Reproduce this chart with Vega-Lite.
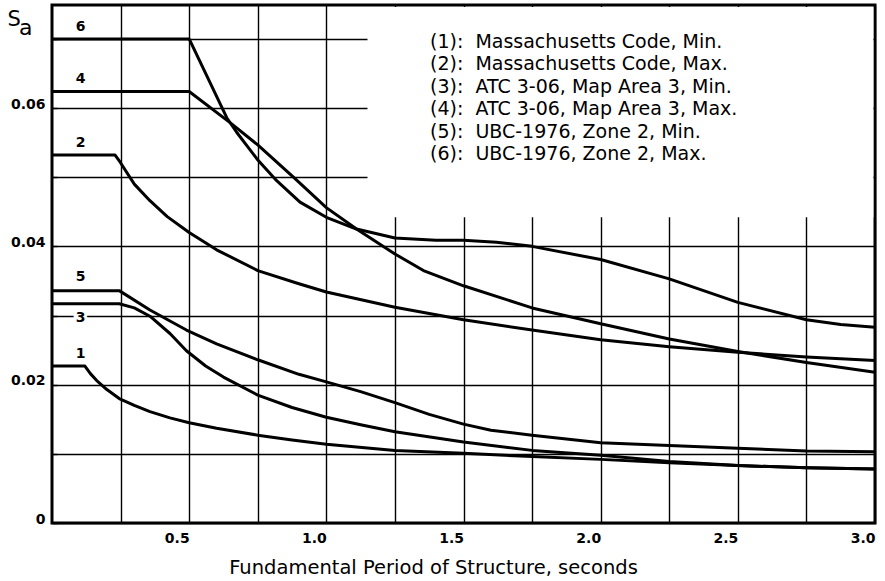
{
  "$schema": "https://vega.github.io/schema/vega-lite/v6.json",
  "width": 823,
  "height": 518,
  "autosize": {"type": "none"},
  "padding": {"left": 52, "top": 5, "right": 10, "bottom": 58},
  "background": "white",
  "config": {
    "view": {"stroke": "black", "strokeWidth": 3},
    "axis": {"domain": false}
  },
  "title": {
    "text": "a",
    "anchor": "start",
    "frame": "group",
    "offset": 0,
    "dx": -33,
    "dy": 52,
    "baseline": "alphabetic",
    "font": "DejaVu Sans",
    "fontSize": 22,
    "fontWeight": "normal",
    "color": "black"
  },
  "datasets": {
    "curves": [
      {"series": "(1):\u00a0\u00a0Massachusetts Code, Min.", "T": 0, "Sa": 0.0227},
      {"series": "(1):\u00a0\u00a0Massachusetts Code, Min.", "T": 0.12, "Sa": 0.0227},
      {"series": "(1):\u00a0\u00a0Massachusetts Code, Min.", "T": 0.14, "Sa": 0.0216},
      {"series": "(1):\u00a0\u00a0Massachusetts Code, Min.", "T": 0.163, "Sa": 0.0206},
      {"series": "(1):\u00a0\u00a0Massachusetts Code, Min.", "T": 0.2, "Sa": 0.0193},
      {"series": "(1):\u00a0\u00a0Massachusetts Code, Min.", "T": 0.245, "Sa": 0.018},
      {"series": "(1):\u00a0\u00a0Massachusetts Code, Min.", "T": 0.3, "Sa": 0.017},
      {"series": "(1):\u00a0\u00a0Massachusetts Code, Min.", "T": 0.357, "Sa": 0.0161},
      {"series": "(1):\u00a0\u00a0Massachusetts Code, Min.", "T": 0.43, "Sa": 0.0152},
      {"series": "(1):\u00a0\u00a0Massachusetts Code, Min.", "T": 0.5, "Sa": 0.0145},
      {"series": "(1):\u00a0\u00a0Massachusetts Code, Min.", "T": 0.6, "Sa": 0.0137},
      {"series": "(1):\u00a0\u00a0Massachusetts Code, Min.", "T": 0.75, "Sa": 0.0127},
      {"series": "(1):\u00a0\u00a0Massachusetts Code, Min.", "T": 0.875, "Sa": 0.012},
      {"series": "(1):\u00a0\u00a0Massachusetts Code, Min.", "T": 1.0, "Sa": 0.0114},
      {"series": "(1):\u00a0\u00a0Massachusetts Code, Min.", "T": 1.25, "Sa": 0.0105},
      {"series": "(1):\u00a0\u00a0Massachusetts Code, Min.", "T": 1.5, "Sa": 0.0101},
      {"series": "(1):\u00a0\u00a0Massachusetts Code, Min.", "T": 1.75, "Sa": 0.0096},
      {"series": "(1):\u00a0\u00a0Massachusetts Code, Min.", "T": 2.0, "Sa": 0.0092},
      {"series": "(1):\u00a0\u00a0Massachusetts Code, Min.", "T": 2.25, "Sa": 0.0087},
      {"series": "(1):\u00a0\u00a0Massachusetts Code, Min.", "T": 2.5, "Sa": 0.0083},
      {"series": "(1):\u00a0\u00a0Massachusetts Code, Min.", "T": 2.75, "Sa": 0.008},
      {"series": "(1):\u00a0\u00a0Massachusetts Code, Min.", "T": 3.0, "Sa": 0.0078},

      {"series": "(2):\u00a0\u00a0Massachusetts Code, Max.", "T": 0, "Sa": 0.0532},
      {"series": "(2):\u00a0\u00a0Massachusetts Code, Max.", "T": 0.23, "Sa": 0.0532},
      {"series": "(2):\u00a0\u00a0Massachusetts Code, Max.", "T": 0.248, "Sa": 0.0522},
      {"series": "(2):\u00a0\u00a0Massachusetts Code, Max.", "T": 0.3, "Sa": 0.049},
      {"series": "(2):\u00a0\u00a0Massachusetts Code, Max.", "T": 0.357, "Sa": 0.0466},
      {"series": "(2):\u00a0\u00a0Massachusetts Code, Max.", "T": 0.42, "Sa": 0.0443},
      {"series": "(2):\u00a0\u00a0Massachusetts Code, Max.", "T": 0.5, "Sa": 0.042},
      {"series": "(2):\u00a0\u00a0Massachusetts Code, Max.", "T": 0.6, "Sa": 0.0395},
      {"series": "(2):\u00a0\u00a0Massachusetts Code, Max.", "T": 0.75, "Sa": 0.0365},
      {"series": "(2):\u00a0\u00a0Massachusetts Code, Max.", "T": 0.9, "Sa": 0.0346},
      {"series": "(2):\u00a0\u00a0Massachusetts Code, Max.", "T": 1.0, "Sa": 0.0334},
      {"series": "(2):\u00a0\u00a0Massachusetts Code, Max.", "T": 1.25, "Sa": 0.0312},
      {"series": "(2):\u00a0\u00a0Massachusetts Code, Max.", "T": 1.5, "Sa": 0.0294},
      {"series": "(2):\u00a0\u00a0Massachusetts Code, Max.", "T": 1.75, "Sa": 0.0279},
      {"series": "(2):\u00a0\u00a0Massachusetts Code, Max.", "T": 2.0, "Sa": 0.0265},
      {"series": "(2):\u00a0\u00a0Massachusetts Code, Max.", "T": 2.25, "Sa": 0.0255},
      {"series": "(2):\u00a0\u00a0Massachusetts Code, Max.", "T": 2.5, "Sa": 0.0247},
      {"series": "(2):\u00a0\u00a0Massachusetts Code, Max.", "T": 2.75, "Sa": 0.024},
      {"series": "(2):\u00a0\u00a0Massachusetts Code, Max.", "T": 3.0, "Sa": 0.0235},

      {"series": "(3):\u00a0\u00a0ATC 3-06, Map Area 3, Min.", "T": 0, "Sa": 0.0317},
      {"series": "(3):\u00a0\u00a0ATC 3-06, Map Area 3, Min.", "T": 0.245, "Sa": 0.0317},
      {"series": "(3):\u00a0\u00a0ATC 3-06, Map Area 3, Min.", "T": 0.3, "Sa": 0.0311},
      {"series": "(3):\u00a0\u00a0ATC 3-06, Map Area 3, Min.", "T": 0.357, "Sa": 0.0299},
      {"series": "(3):\u00a0\u00a0ATC 3-06, Map Area 3, Min.", "T": 0.43, "Sa": 0.0274},
      {"series": "(3):\u00a0\u00a0ATC 3-06, Map Area 3, Min.", "T": 0.49, "Sa": 0.0249},
      {"series": "(3):\u00a0\u00a0ATC 3-06, Map Area 3, Min.", "T": 0.56, "Sa": 0.0227},
      {"series": "(3):\u00a0\u00a0ATC 3-06, Map Area 3, Min.", "T": 0.625, "Sa": 0.0211},
      {"series": "(3):\u00a0\u00a0ATC 3-06, Map Area 3, Min.", "T": 0.75, "Sa": 0.0185},
      {"series": "(3):\u00a0\u00a0ATC 3-06, Map Area 3, Min.", "T": 0.875, "Sa": 0.0167},
      {"series": "(3):\u00a0\u00a0ATC 3-06, Map Area 3, Min.", "T": 1.0, "Sa": 0.0153},
      {"series": "(3):\u00a0\u00a0ATC 3-06, Map Area 3, Min.", "T": 1.125, "Sa": 0.0142},
      {"series": "(3):\u00a0\u00a0ATC 3-06, Map Area 3, Min.", "T": 1.25, "Sa": 0.0132},
      {"series": "(3):\u00a0\u00a0ATC 3-06, Map Area 3, Min.", "T": 1.5, "Sa": 0.0117},
      {"series": "(3):\u00a0\u00a0ATC 3-06, Map Area 3, Min.", "T": 1.75, "Sa": 0.0105},
      {"series": "(3):\u00a0\u00a0ATC 3-06, Map Area 3, Min.", "T": 2.0, "Sa": 0.0098},
      {"series": "(3):\u00a0\u00a0ATC 3-06, Map Area 3, Min.", "T": 2.25, "Sa": 0.0089},
      {"series": "(3):\u00a0\u00a0ATC 3-06, Map Area 3, Min.", "T": 2.5, "Sa": 0.0083},
      {"series": "(3):\u00a0\u00a0ATC 3-06, Map Area 3, Min.", "T": 2.75, "Sa": 0.008},
      {"series": "(3):\u00a0\u00a0ATC 3-06, Map Area 3, Min.", "T": 3.0, "Sa": 0.0078},

      {"series": "(4):\u00a0\u00a0ATC 3-06, Map Area 3, Max.", "T": 0, "Sa": 0.0624},
      {"series": "(4):\u00a0\u00a0ATC 3-06, Map Area 3, Max.", "T": 0.5, "Sa": 0.0624},
      {"series": "(4):\u00a0\u00a0ATC 3-06, Map Area 3, Max.", "T": 0.649, "Sa": 0.0579},
      {"series": "(4):\u00a0\u00a0ATC 3-06, Map Area 3, Max.", "T": 0.752, "Sa": 0.0546},
      {"series": "(4):\u00a0\u00a0ATC 3-06, Map Area 3, Max.", "T": 0.88, "Sa": 0.05},
      {"series": "(4):\u00a0\u00a0ATC 3-06, Map Area 3, Max.", "T": 1.0, "Sa": 0.0456},
      {"series": "(4):\u00a0\u00a0ATC 3-06, Map Area 3, Max.", "T": 1.11, "Sa": 0.0425},
      {"series": "(4):\u00a0\u00a0ATC 3-06, Map Area 3, Max.", "T": 1.25, "Sa": 0.0389},
      {"series": "(4):\u00a0\u00a0ATC 3-06, Map Area 3, Max.", "T": 1.354, "Sa": 0.0365},
      {"series": "(4):\u00a0\u00a0ATC 3-06, Map Area 3, Max.", "T": 1.5, "Sa": 0.0343},
      {"series": "(4):\u00a0\u00a0ATC 3-06, Map Area 3, Max.", "T": 1.75, "Sa": 0.0311},
      {"series": "(4):\u00a0\u00a0ATC 3-06, Map Area 3, Max.", "T": 2.0, "Sa": 0.0288},
      {"series": "(4):\u00a0\u00a0ATC 3-06, Map Area 3, Max.", "T": 2.25, "Sa": 0.0266},
      {"series": "(4):\u00a0\u00a0ATC 3-06, Map Area 3, Max.", "T": 2.5, "Sa": 0.0248},
      {"series": "(4):\u00a0\u00a0ATC 3-06, Map Area 3, Max.", "T": 2.75, "Sa": 0.0232},
      {"series": "(4):\u00a0\u00a0ATC 3-06, Map Area 3, Max.", "T": 3.0, "Sa": 0.0218},

      {"series": "(5):\u00a0\u00a0UBC-1976, Zone 2, Min.", "T": 0, "Sa": 0.0336},
      {"series": "(5):\u00a0\u00a0UBC-1976, Zone 2, Min.", "T": 0.245, "Sa": 0.0336},
      {"series": "(5):\u00a0\u00a0UBC-1976, Zone 2, Min.", "T": 0.357, "Sa": 0.0308},
      {"series": "(5):\u00a0\u00a0UBC-1976, Zone 2, Min.", "T": 0.49, "Sa": 0.0279},
      {"series": "(5):\u00a0\u00a0UBC-1976, Zone 2, Min.", "T": 0.6, "Sa": 0.0259},
      {"series": "(5):\u00a0\u00a0UBC-1976, Zone 2, Min.", "T": 0.75, "Sa": 0.0236},
      {"series": "(5):\u00a0\u00a0UBC-1976, Zone 2, Min.", "T": 0.9, "Sa": 0.0215},
      {"series": "(5):\u00a0\u00a0UBC-1976, Zone 2, Min.", "T": 1.0, "Sa": 0.0204},
      {"series": "(5):\u00a0\u00a0UBC-1976, Zone 2, Min.", "T": 1.125, "Sa": 0.019},
      {"series": "(5):\u00a0\u00a0UBC-1976, Zone 2, Min.", "T": 1.25, "Sa": 0.0174},
      {"series": "(5):\u00a0\u00a0UBC-1976, Zone 2, Min.", "T": 1.375, "Sa": 0.0157},
      {"series": "(5):\u00a0\u00a0UBC-1976, Zone 2, Min.", "T": 1.5, "Sa": 0.0143},
      {"series": "(5):\u00a0\u00a0UBC-1976, Zone 2, Min.", "T": 1.6, "Sa": 0.0134},
      {"series": "(5):\u00a0\u00a0UBC-1976, Zone 2, Min.", "T": 1.75, "Sa": 0.0127},
      {"series": "(5):\u00a0\u00a0UBC-1976, Zone 2, Min.", "T": 2.0, "Sa": 0.0116},
      {"series": "(5):\u00a0\u00a0UBC-1976, Zone 2, Min.", "T": 2.25, "Sa": 0.0112},
      {"series": "(5):\u00a0\u00a0UBC-1976, Zone 2, Min.", "T": 2.5, "Sa": 0.0108},
      {"series": "(5):\u00a0\u00a0UBC-1976, Zone 2, Min.", "T": 2.75, "Sa": 0.0104},
      {"series": "(5):\u00a0\u00a0UBC-1976, Zone 2, Min.", "T": 3.0, "Sa": 0.0103},

      {"series": "(6):\u00a0\u00a0UBC-1976, Zone 2, Max.", "T": 0, "Sa": 0.07},
      {"series": "(6):\u00a0\u00a0UBC-1976, Zone 2, Max.", "T": 0.5, "Sa": 0.07},
      {"series": "(6):\u00a0\u00a0UBC-1976, Zone 2, Max.", "T": 0.637, "Sa": 0.0586},
      {"series": "(6):\u00a0\u00a0UBC-1976, Zone 2, Max.", "T": 0.673, "Sa": 0.0565},
      {"series": "(6):\u00a0\u00a0UBC-1976, Zone 2, Max.", "T": 0.752, "Sa": 0.0524},
      {"series": "(6):\u00a0\u00a0UBC-1976, Zone 2, Max.", "T": 0.819, "Sa": 0.0495},
      {"series": "(6):\u00a0\u00a0UBC-1976, Zone 2, Max.", "T": 0.904, "Sa": 0.0464},
      {"series": "(6):\u00a0\u00a0UBC-1976, Zone 2, Max.", "T": 1.0, "Sa": 0.0442},
      {"series": "(6):\u00a0\u00a0UBC-1976, Zone 2, Max.", "T": 1.11, "Sa": 0.0425},
      {"series": "(6):\u00a0\u00a0UBC-1976, Zone 2, Max.", "T": 1.25, "Sa": 0.0412},
      {"series": "(6):\u00a0\u00a0UBC-1976, Zone 2, Max.", "T": 1.4, "Sa": 0.0409},
      {"series": "(6):\u00a0\u00a0UBC-1976, Zone 2, Max.", "T": 1.5, "Sa": 0.0409},
      {"series": "(6):\u00a0\u00a0UBC-1976, Zone 2, Max.", "T": 1.62, "Sa": 0.0406},
      {"series": "(6):\u00a0\u00a0UBC-1976, Zone 2, Max.", "T": 1.75, "Sa": 0.04},
      {"series": "(6):\u00a0\u00a0UBC-1976, Zone 2, Max.", "T": 2.0, "Sa": 0.0381},
      {"series": "(6):\u00a0\u00a0UBC-1976, Zone 2, Max.", "T": 2.25, "Sa": 0.0353},
      {"series": "(6):\u00a0\u00a0UBC-1976, Zone 2, Max.", "T": 2.5, "Sa": 0.0319},
      {"series": "(6):\u00a0\u00a0UBC-1976, Zone 2, Max.", "T": 2.75, "Sa": 0.0294},
      {"series": "(6):\u00a0\u00a0UBC-1976, Zone 2, Max.", "T": 2.875, "Sa": 0.0287},
      {"series": "(6):\u00a0\u00a0UBC-1976, Zone 2, Max.", "T": 3.0, "Sa": 0.0283}
    ],
    "labels": [
      {"label": "6", "T": 0.104, "Sa": 0.0717},
      {"label": "4", "T": 0.104, "Sa": 0.0642},
      {"label": "2", "T": 0.104, "Sa": 0.055},
      {"label": "5", "T": 0.104, "Sa": 0.0355},
      {"label": "3", "T": 0.104, "Sa": 0.0297},
      {"label": "1", "T": 0.104, "Sa": 0.0245}
    ],
    "legendbox": [
      {"T": 1.15, "T2": 2.994, "Sa": 0.0442, "Sa2": 0.0746}
    ]
  },
  "layer": [
    {
      "data": {"name": "legendbox"},
      "mark": {"type": "rect", "color": "white", "opacity": 1},
      "encoding": {
        "x": {
          "field": "T",
          "type": "quantitative",
          "scale": {"domain": [0, 3], "nice": false, "zero": false},
          "axis": {
            "values": [0.25, 0.5, 0.75, 1, 1.25, 1.5, 1.75, 2, 2.25, 2.5, 2.75, 3],
            "labelExpr": "round(datum.value * 4) % 2 == 0 ? format(datum.value, '.1f') : ''",
            "grid": true,
            "gridColor": "black",
            "gridWidth": 1.4,
            "gridOpacity": 1,
            "ticks": false,
            "labelAlign": "right",
            "labelBaseline": "top",
            "labelPadding": 8,
            "labelFlush": false,
            "labelOverlap": false,
            "labelBound": false,
            "labelFont": "DejaVu Sans",
            "labelFontWeight": "bold",
            "labelFontSize": 14,
            "labelColor": "black",
            "title": "Fundamental Period of Structure, seconds",
            "titleFont": "DejaVu Sans",
            "titleFontWeight": "normal",
            "titleFontSize": 19.5,
            "titleColor": "black",
            "titleX": 381,
            "titleY": 44,
            "titleAlign": "center",
            "titleBaseline": "middle"
          }
        },
        "x2": {"field": "T2"},
        "y": {
          "field": "Sa",
          "type": "quantitative",
          "scale": {"domain": [0, 0.0749], "nice": false, "zero": true},
          "axis": {
            "values": [0, 0.005, 0.01, 0.015, 0.02, 0.025, 0.03, 0.035, 0.04, 0.045, 0.05, 0.055, 0.06, 0.065, 0.07],
            "labelExpr": "datum.value == 0 ? '0' : (round(datum.value * 1000) % 20 == 0 ? format(datum.value, '.2f') : '')",
            "grid": true,
            "gridColor": "black",
            "gridWidth": 1.4,
            "gridOpacity": {"condition": {"test": "round(datum.value * 1000) % 10 == 0", "value": 1}, "value": 0},
            "ticks": true,
            "tickSize": -5,
            "tickColor": "black",
            "tickWidth": 1.4,
            "labelPadding": 12,
            "labelBaseline": "alphabetic",
            "labelOverlap": false,
            "labelBound": false,
            "labelFont": "DejaVu Sans",
            "labelFontWeight": "bold",
            "labelFontSize": 14,
            "labelColor": "black",
            "title": "S",
            "titleAngle": 0,
            "titleAlign": "left",
            "titleBaseline": "alphabetic",
            "titleX": -45,
            "titleY": 20,
            "titleFont": "DejaVu Sans",
            "titleFontWeight": "normal",
            "titleFontSize": 21,
            "titleColor": "black"
          }
        },
        "y2": {"field": "Sa2"}
      }
    },
    {
      "data": {"name": "curves"},
      "mark": {"type": "line", "strokeWidth": 3, "strokeJoin": "round", "clip": true},
      "encoding": {
        "x": {"field": "T", "type": "quantitative"},
        "y": {"field": "Sa", "type": "quantitative"},
        "color": {
          "field": "series",
          "type": "nominal",
          "scale": {
            "domain": [
              "(1):\u00a0\u00a0Massachusetts Code, Min.",
              "(2):\u00a0\u00a0Massachusetts Code, Max.",
              "(3):\u00a0\u00a0ATC 3-06, Map Area 3, Min.",
              "(4):\u00a0\u00a0ATC 3-06, Map Area 3, Max.",
              "(5):\u00a0\u00a0UBC-1976, Zone 2, Min.",
              "(6):\u00a0\u00a0UBC-1976, Zone 2, Max."
            ],
            "range": ["black", "black", "black", "black", "black", "black"]
          },
          "legend": {
            "orient": "none",
            "legendX": 359,
            "legendY": 27,
            "title": null,
            "padding": 0,
            "symbolType": "stroke",
            "symbolSize": 0,
            "symbolStrokeWidth": 0,
            "labelOffset": 0,
            "labelLimit": 0,
            "labelFont": "DejaVu Sans",
            "labelFontSize": 19,
            "labelColor": "black",
            "rowPadding": 2.5
          }
        },
        "order": {"field": "T", "type": "quantitative"}
      }
    },
    {
      "data": {"name": "labels"},
      "mark": {"type": "text", "font": "DejaVu Sans", "fontWeight": "bold", "fontSize": 14, "color": "white", "stroke": "white", "strokeWidth": 6, "baseline": "middle", "align": "center"},
      "encoding": {
        "x": {"field": "T", "type": "quantitative"},
        "y": {"field": "Sa", "type": "quantitative"},
        "text": {"field": "label", "type": "nominal"}
      }
    },
    {
      "data": {"name": "labels"},
      "mark": {"type": "text", "font": "DejaVu Sans", "fontWeight": "bold", "fontSize": 14, "color": "black", "baseline": "middle", "align": "center"},
      "encoding": {
        "x": {"field": "T", "type": "quantitative"},
        "y": {"field": "Sa", "type": "quantitative"},
        "text": {"field": "label", "type": "nominal"}
      }
    }
  ]
}
